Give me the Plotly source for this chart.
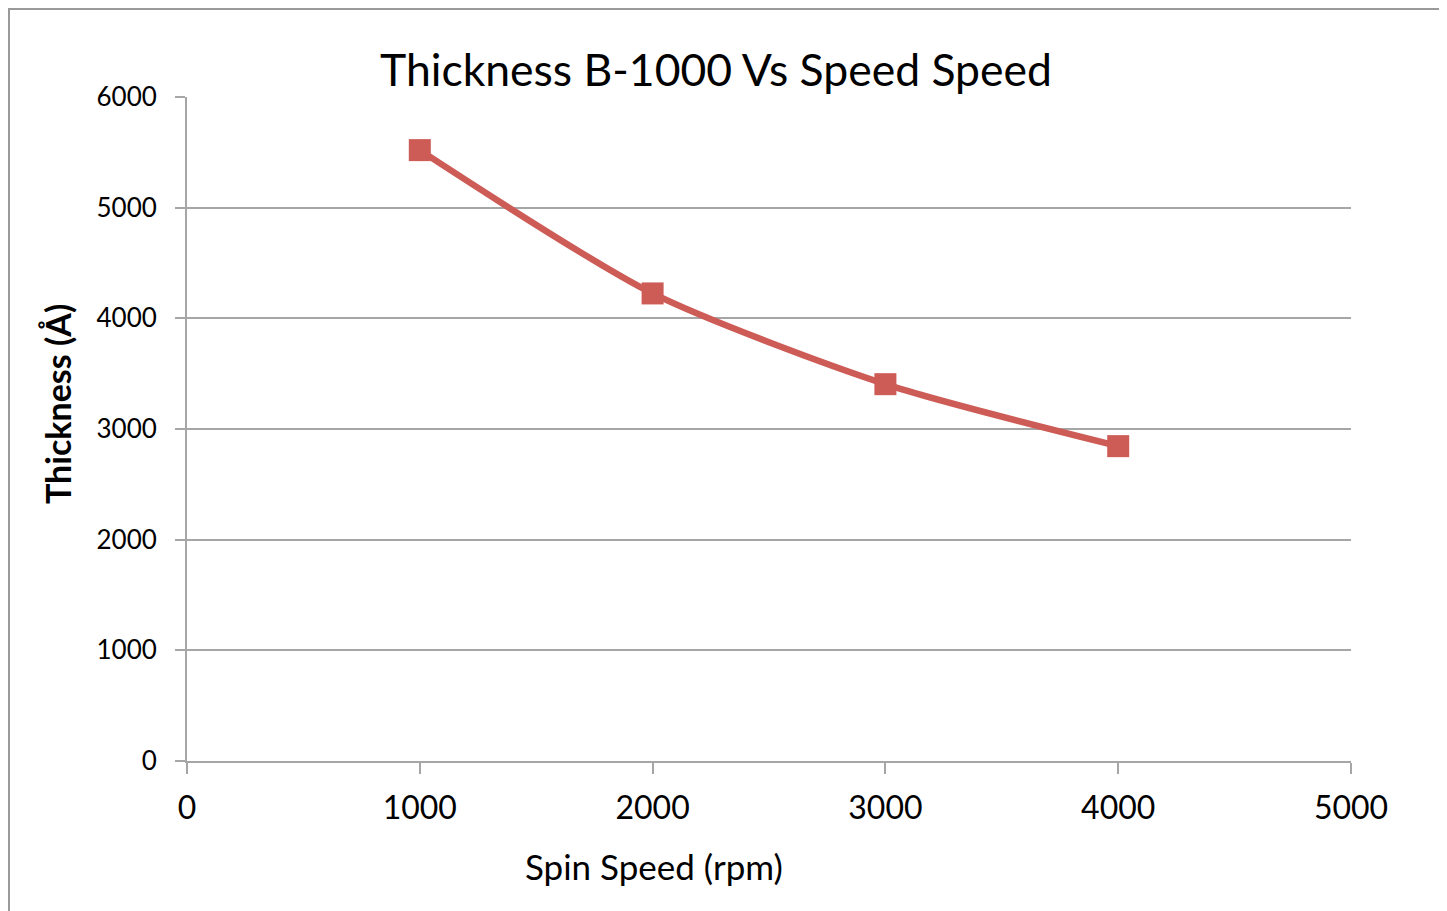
import plotly.graph_objects as go

spin_speed = [1000, 2000, 3000, 4000]
thickness = [5520, 4225, 3405, 2845]

title_text = "Thickness B-1000 Vs Speed Speed"
x_title = "Spin Speed (rpm)"
y_title = "Thickness (Å)"

OFF = 8  # page body margin
L, R, T, B = 187, 1351, 97, 761  # plot area in screen pixels
W, H = 1447 - OFF, 911 - OFF
pw, ph = R - L, B - T


def px(sx):
    return (sx - L) / pw


def py(sy):
    return (B - sy) / ph


fig = go.Figure()
fig.add_trace(go.Scatter(
    x=spin_speed, y=thickness, mode="lines+markers",
    line=dict(color="#cd5b56", width=6.5, shape="spline", smoothing=0.7),
    marker=dict(symbol="square", size=22, color="#cd5b56"),
    showlegend=False,
))

grid = "#a6a6a6"
font = "Lato, 'Open Sans', sans-serif"
fig.update_layout(
    width=W, height=H,
    margin=dict(l=L - OFF, r=W - (R - OFF), t=T - OFF, b=H - (B - OFF), pad=0),
    paper_bgcolor="white", plot_bgcolor="white",
    font=dict(family=font, color="black"),
    title=dict(text=title_text, x=(716 - OFF) / W, xanchor="center", xref="container",
               y=1 - (70 - OFF) / H, yanchor="middle", yref="container",
               font=dict(size=44.5, family=font, color="black")),
    xaxis=dict(range=[0, 5000], dtick=1000, tick0=0, showgrid=False,
               showline=True, linecolor=grid, linewidth=2,
               ticks="outside", ticklen=11, tickwidth=2, tickcolor=grid,
               tickfont=dict(size=32), zeroline=False, ticklabelstandoff=7),
    yaxis=dict(range=[0, 6000], dtick=1000, tick0=0, showgrid=True,
               gridcolor=grid, gridwidth=2,
               showline=True, linecolor=grid, linewidth=2,
               ticks="outside", ticklen=10, tickwidth=2, tickcolor=grid,
               tickfont=dict(size=26), zeroline=False, ticklabelstandoff=13),
    annotations=[
        dict(text=x_title, xref="paper", yref="paper", x=px(654), y=py(866),
             xanchor="center", yanchor="middle", showarrow=False,
             font=dict(size=35, family=font, color="black")),
        dict(text="<b>" + y_title + "</b>", xref="paper", yref="paper", x=px(57), y=py(404),
             xanchor="center", yanchor="middle", showarrow=False, textangle=-90,
             font=dict(size=34, family=font, color="black")),
    ],
    shapes=[dict(type="rect", xref="paper", yref="paper",
                 x0=px(9), x1=px(1441), y0=py(940), y1=py(9),
                 line=dict(color="#9a9a9a", width=2), layer="below")],
)
fig.write_html("out.html")
